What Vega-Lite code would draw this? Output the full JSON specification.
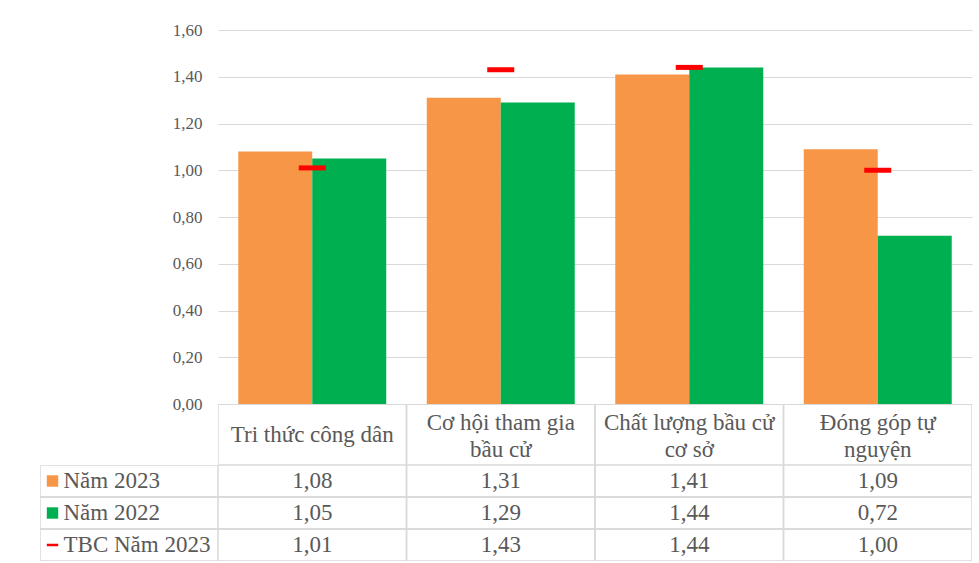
{
  "$schema": "https://vega.github.io/schema/vega-lite/v6.json",
  "background": "white",
  "padding": {"left": 40, "top": 21, "right": 7, "bottom": 0},
  "spacing": 0,
  "config": {
    "locale": {"number": {"decimal": ",", "thousands": ".", "grouping": [3], "currency": ["", ""]}},
    "view": {"stroke": null},
    "font": "Liberation Serif",
    "concat": {"spacing": 0}
  },
  "datasets": {
    "scores": [
      {"cat": "Tri thức công dân", "series": "Năm 2023", "value": 1.08},
      {"cat": "Cơ hội tham gia bầu cử", "series": "Năm 2023", "value": 1.31},
      {"cat": "Chất lượng bầu cử cơ sở", "series": "Năm 2023", "value": 1.41},
      {"cat": "Đóng góp tự nguyện", "series": "Năm 2023", "value": 1.09},
      {"cat": "Tri thức công dân", "series": "Năm 2022", "value": 1.05},
      {"cat": "Cơ hội tham gia bầu cử", "series": "Năm 2022", "value": 1.29},
      {"cat": "Chất lượng bầu cử cơ sở", "series": "Năm 2022", "value": 1.44},
      {"cat": "Đóng góp tự nguyện", "series": "Năm 2022", "value": 0.72},
      {"cat": "Tri thức công dân", "series": "TBC Năm 2023", "value": 1.01},
      {"cat": "Cơ hội tham gia bầu cử", "series": "TBC Năm 2023", "value": 1.43},
      {"cat": "Chất lượng bầu cử cơ sở", "series": "TBC Năm 2023", "value": 1.44},
      {"cat": "Đóng góp tự nguyện", "series": "TBC Năm 2023", "value": 1.0}
    ],
    "categories": [
      {"cat": "Tri thức công dân", "label": "Tri thức công dân"},
      {"cat": "Cơ hội tham gia bầu cử", "label": "Cơ hội tham gia\nbầu cử"},
      {"cat": "Chất lượng bầu cử cơ sở", "label": "Chất lượng bầu cử\ncơ sở"},
      {"cat": "Đóng góp tự nguyện", "label": "Đóng góp tự\nnguyện"}
    ],
    "series": [
      {"series": "Năm 2023"},
      {"series": "Năm 2022"},
      {"series": "TBC Năm 2023"}
    ]
  },
  "hconcat": [
    {
      "bounds": "flush",
      "vconcat": [
        {
          "width": 178,
          "height": 374,
          "data": {"name": "scores"},
          "transform": [{"filter": "datum.series !== 'TBC Năm 2023'"}],
          "mark": {"type": "point", "opacity": 0},
          "encoding": {
            "y": {
              "field": "value", "type": "quantitative",
              "scale": {"domain": [0, 1.6], "nice": false, "zero": true},
              "axis": {
                "orient": "right",
                "values": [0, 0.2, 0.4, 0.6, 0.8, 1.0, 1.2, 1.4, 1.6],
                "format": ".2f",
                "title": null,
                "labelFont": "Liberation Serif",
                "labelFontSize": 17,
                "labelColor": "#595959",
                "labelAlign": "right",
                "labelPadding": -16,
                "ticks": false,
                "domain": false,
                "grid": false,
                "minExtent": 0,
                "maxExtent": 0
              }
            }
          }
        },
        {
          "width": 178,
          "height": 61,
          "data": {"values": [{"blank": ""}]},
          "mark": {"type": "text"},
          "encoding": {"text": {"field": "blank"}}
        },
        {
          "width": 178,
          "height": 96,
          "data": {"name": "series"},
          "encoding": {
            "y": {
              "field": "series", "type": "nominal",
              "scale": {"domain": ["Năm 2023", "Năm 2022", "TBC Năm 2023"], "paddingInner": 0, "paddingOuter": 0},
              "axis": null
            }
          },
          "layer": [
            {"mark": {"type": "rect", "filled": false, "color": "#D9D9D9", "strokeWidth": 1.5, "clip": true}},
            {
              "mark": {"type": "point", "filled": true, "size": 130, "opacity": 1},
              "encoding": {
                "xOffset": {"value": -76.5},
                "shape": {
                  "field": "series", "type": "nominal",
                  "scale": {"domain": ["Năm 2023", "Năm 2022", "TBC Năm 2023"], "range": ["square", "square", "M-1,-0.22H1V0.22H-1Z"]},
                  "legend": null
                },
                "color": {
                  "field": "series", "type": "nominal",
                  "scale": {"domain": ["Năm 2023", "Năm 2022", "TBC Năm 2023"], "range": ["#F79646", "#00B050", "#FF0000"]},
                  "legend": null
                }
              }
            },
            {
              "mark": {"type": "text", "align": "left", "baseline": "middle", "dx": -65.5, "fontSize": 23, "color": "#595959", "font": "Liberation Serif"},
              "encoding": {"text": {"field": "series"}}
            }
          ]
        }
      ]
    },
    {
      "bounds": "flush",
      "vconcat": [
        {
          "width": 754,
          "height": 374,
          "data": {"name": "scores"},
          "encoding": {
            "x": {
              "field": "cat", "type": "nominal",
              "scale": {"domain": ["Tri thức công dân", "Cơ hội tham gia bầu cử", "Chất lượng bầu cử cơ sở", "Đóng góp tự nguyện"], "paddingInner": 0.215, "paddingOuter": 0.1075},
              "axis": null
            }
          },
          "layer": [
            {
              "transform": [{"filter": "datum.series !== 'TBC Năm 2023'"}],
              "mark": {"type": "bar"},
              "encoding": {
                "xOffset": {"field": "series", "type": "nominal", "scale": {"domain": ["Năm 2023", "Năm 2022"], "paddingInner": 0}},
                "y": {
                  "field": "value", "type": "quantitative",
                  "scale": {"domain": [0, 1.6], "nice": false, "zero": true},
                  "axis": {
                    "values": [0, 0.2, 0.4, 0.6, 0.8, 1.0, 1.2, 1.4, 1.6],
                    "title": null,
                    "labels": false,
                    "ticks": false,
                    "domain": false,
                    "gridColor": "#D9D9D9",
                    "gridWidth": 1,
                    "minExtent": 0,
                    "maxExtent": 0
                  }
                },
                "color": {
                  "field": "series", "type": "nominal",
                  "scale": {"domain": ["Năm 2023", "Năm 2022"], "range": ["#F79646", "#00B050"]},
                  "legend": null
                }
              }
            },
            {
              "transform": [{"filter": "datum.series === 'TBC Năm 2023'"}],
              "mark": {"type": "tick", "color": "#FF0000", "size": 27, "thickness": 5, "opacity": 1},
              "encoding": {
                "y": {"field": "value", "type": "quantitative"}
              }
            }
          ]
        },
        {
          "width": 754,
          "height": 61,
          "data": {"name": "categories"},
          "encoding": {
            "x": {
              "field": "cat", "type": "nominal",
              "scale": {"domain": ["Tri thức công dân", "Cơ hội tham gia bầu cử", "Chất lượng bầu cử cơ sở", "Đóng góp tự nguyện"], "paddingInner": 0, "paddingOuter": 0},
              "axis": null
            }
          },
          "layer": [
            {"mark": {"type": "rect", "filled": false, "color": "#D9D9D9", "strokeWidth": 1.5, "clip": true}},
            {
              "transform": [{"filter": "indexof(datum.label, '\\n') < 0"}],
              "mark": {"type": "text", "fontSize": 23, "color": "#595959", "baseline": "middle", "font": "Liberation Serif"},
              "encoding": {"text": {"field": "label"}}
            },
            {
              "transform": [{"filter": "indexof(datum.label, '\\n') >= 0"}],
              "mark": {"type": "text", "lineBreak": "\n", "fontSize": 23, "lineHeight": 27, "dy": -12, "color": "#595959", "baseline": "middle", "font": "Liberation Serif"},
              "encoding": {"text": {"field": "label"}}
            }
          ]
        },
        {
          "width": 754,
          "height": 96,
          "data": {"name": "scores"},
          "encoding": {
            "x": {
              "field": "cat", "type": "nominal",
              "scale": {"domain": ["Tri thức công dân", "Cơ hội tham gia bầu cử", "Chất lượng bầu cử cơ sở", "Đóng góp tự nguyện"], "paddingInner": 0, "paddingOuter": 0},
              "axis": null
            },
            "y": {
              "field": "series", "type": "nominal",
              "scale": {"domain": ["Năm 2023", "Năm 2022", "TBC Năm 2023"], "paddingInner": 0, "paddingOuter": 0},
              "axis": null
            }
          },
          "layer": [
            {"mark": {"type": "rect", "filled": false, "color": "#D9D9D9", "strokeWidth": 1.5, "clip": true}},
            {
              "mark": {"type": "text", "baseline": "middle", "fontSize": 23, "color": "#595959", "font": "Liberation Serif"},
              "encoding": {"text": {"field": "value", "type": "quantitative", "format": ".2f"}}
            }
          ]
        }
      ]
    }
  ]
}
